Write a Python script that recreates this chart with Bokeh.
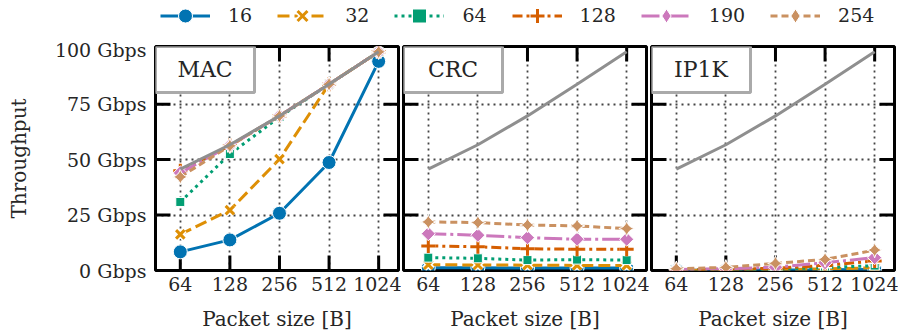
import numpy as np
from bokeh.plotting import figure
from bokeh.layouts import column, row
from bokeh.models import (Range1d, FixedTicker, PrintfTickFormatter, BoxAnnotation,
                          Label, Legend, LegendItem, ColumnDataSource, Grid)
from bokeh.embed import file_html
from bokeh.resources import INLINE

# ---------------- data ----------------
packet_sizes = [64, 128, 256, 512, 1024]
panel_names = ["MAC", "CRC", "IP1K"]
series_names = ["16", "32", "64", "128", "190", "254"]
y_ticks = [0, 25, 50, 75, 100]

line_rate = [45.7, 56.7, 69.7, 84.0, 98.6]

mac_16 = [8.4, 13.8, 25.8, 48.7, 94.3]
mac_32 = [16.3, 27.2, 50.2, 84.0, 98.6]
mac_64 = [30.9, 52.5, 69.2, 84.0, 98.6]
mac_128 = [45.0, 56.4, 69.7, 84.0, 98.6]
mac_190 = [44.0, 56.3, 69.7, 84.0, 98.6]
mac_254 = [42.2, 56.2, 69.7, 84.0, 98.6]

crc_16 = [1.2, 1.2, 1.1, 1.1, 1.1]
crc_32 = [2.6, 2.5, 2.4, 2.3, 2.3]
crc_64 = [5.8, 5.5, 4.7, 4.9, 4.7]
crc_128 = [11.1, 10.7, 9.8, 9.6, 9.6]
crc_190 = [16.6, 15.9, 14.8, 14.1, 14.1]
crc_254 = [21.9, 21.6, 20.5, 20.1, 18.9]

ip1k_16 = [0.1, 0.1, 0.2, 0.3, 0.5]
ip1k_32 = [0.1, 0.2, 0.4, 0.7, 1.2]
ip1k_64 = [0.2, 0.3, 0.6, 1.3, 2.2]
ip1k_128 = [0.3, 0.5, 1.0, 2.3, 4.3]
ip1k_190 = [0.4, 0.8, 1.5, 3.5, 5.8]
ip1k_254 = [0.8, 1.4, 3.2, 5.0, 9.2]

panel_data = [
    [mac_16, mac_32, mac_64, mac_128, mac_190, mac_254],
    [crc_16, crc_32, crc_64, crc_128, crc_190, crc_254],
    [ip1k_16, ip1k_32, ip1k_64, ip1k_128, ip1k_190, ip1k_254],
]

# ---------------- style ----------------
FONT = "DejaVu Serif"
TXT = "#262626"
colors = ["#0173B2", "#DE8F05", "#029E73", "#D55E00", "#CC78BC", "#CA9161"]
markers = ["circle", "x", "square", "cross", "square", "square_pin"]
legend_markers = ["circle", "x", "square", "cross", "diamond", "diamond"]
angles = [0, 0, 0, 0, np.pi / 4, np.pi / 4]
msizes = [14, 12, 9, 14, 10, 11]
dashes = ["solid", "12 5", "3 4", "10 4 3 4", "18 4 3 4", "7 4"]
line_markers = {"x", "cross"}
GRAY = "#8f8f8f"

XS, XE = 64 / 2 ** 0.5, 1024 * 2 ** 0.4
YS, YE = 0, 101
FW, FH = 243, 224
PPO = FW / np.log2(XE / XS)     # px per octave
PPU = FH / (YE - YS)            # px per unit


def add_series(p, k, xs, ys, marker=None):
    marker = marker or markers[k]
    src = ColumnDataSource(dict(x=xs, y=ys))
    rs = []
    rs.append(p.line("x", "y", source=src, line_color=colors[k], line_width=3,
                     line_dash=dashes[k]))
    if marker in line_markers:
        rs.append(p.scatter("x", "y", source=src, marker=marker, size=msizes[k],
                            line_color="white", line_width=6))
        rs.append(p.scatter("x", "y", source=src, marker=marker, size=msizes[k],
                            line_color=colors[k], line_width=3))
    else:
        rs.append(p.scatter("x", "y", source=src, marker=marker, size=msizes[k],
                            angle=angles[k], fill_color=colors[k], line_color="white",
                            line_width=1))
    return rs


def style_axis(a, label):
    a.axis_label = label
    a.axis_line_color = None
    a.major_tick_line_color = None
    a.minor_tick_line_color = None
    a.major_tick_in = 0
    a.major_tick_out = 0
    a.minor_tick_in = 0
    a.minor_tick_out = 0
    a.major_label_text_font = FONT
    a.major_label_text_font_size = "19px"
    a.major_label_text_color = TXT
    a.axis_label_text_font = FONT
    a.axis_label_text_font_size = "20px"
    a.axis_label_text_font_style = "normal"
    a.axis_label_text_color = TXT


def make_panel(i):
    left = 155 if i == 0 else 2
    right = 3 if i < 2 else 4
    p = figure(frame_width=FW, frame_height=FH, min_border_left=left,
               min_border_right=right, min_border_top=8, min_border_bottom=60,
               x_axis_type="log", x_range=Range1d(XS, XE), y_range=Range1d(YS, YE),
               y_axis_location="left" if i == 0 else None,
               toolbar_location=None, output_backend="svg")
    p.background_fill_color = "white"
    p.border_fill_color = "white"
    p.outline_line_color = "black"
    p.outline_line_width = 3
    p.grid.visible = False
    gx = Grid(dimension=0, ticker=FixedTicker(ticks=packet_sizes),
              grid_line_color="#444444", grid_line_width=1.8, grid_line_dash="2 4")
    gy = Grid(dimension=1, ticker=FixedTicker(ticks=y_ticks[1:-1]),
              grid_line_color="#444444", grid_line_width=1.8, grid_line_dash="2 4")
    p.add_layout(gx)
    p.add_layout(gy)

    ax = p.xaxis[0]
    ax.ticker = FixedTicker(ticks=packet_sizes)
    ax.formatter = PrintfTickFormatter(format="%d")
    style_axis(ax, "Packet size [B]")
    ax.major_label_standoff = 6
    ax.axis_label_standoff = 13
    if i == 0:
        ay = p.yaxis[0]
        ay.ticker = FixedTicker(ticks=y_ticks)
        ay.formatter = PrintfTickFormatter(format="%d Gbps")
        style_axis(ay, "Throughput")
        ay.major_label_standoff = 9
        ay.axis_label_standoff = 21

    # inward ticks on all four sides
    tl = 15
    ty = tl / PPU
    tx = 2 ** (tl / PPO)
    n = len(packet_sizes)
    inner_y = y_ticks[1:-1]
    m = len(inner_y)
    p.segment(x0=packet_sizes, y0=[YS] * n, x1=packet_sizes, y1=[YS + ty] * n,
              line_color="black", line_width=3)
    p.segment(x0=packet_sizes, y0=[YE] * n, x1=packet_sizes, y1=[YE - ty] * n,
              line_color="black", line_width=3)
    p.segment(x0=[XS] * m, y0=inner_y, x1=[XS * tx] * m, y1=inner_y,
              line_color="black", line_width=3)
    p.segment(x0=[XE] * m, y0=inner_y, x1=[XE / tx] * m, y1=inner_y,
              line_color="black", line_width=3)

    for k in range(len(series_names)):
        add_series(p, k, packet_sizes, panel_data[i][k])
    p.line(packet_sizes, line_rate, line_color=GRAY, line_width=3)

    # panel title box
    bw, bh = 99, 46
    p.add_layout(BoxAnnotation(left=XS, right=XS * 2 ** (bw / PPO), bottom=YE - bh / PPU,
                               top=YE, fill_color="white", fill_alpha=1,
                               line_color="#aaaaaa", line_width=3, line_alpha=1))
    p.add_layout(Label(x=XS * 2 ** (bw / 2 / PPO), y=YE - bh / 2 / PPU, text=panel_names[i],
                       text_align="center", text_baseline="middle", text_font=FONT,
                       text_font_size="22px", text_color=TXT))
    return p


panels = [make_panel(i) for i in range(3)]
total_w = (155 + FW + 3) + (2 + FW + 3) + (2 + FW + 4)

# legend strip (one hidden point per series, outside the strip's range)
LH = 38
lf = figure(width=total_w, height=LH, min_border=0, x_range=Range1d(0, 1),
            y_range=Range1d(0, 1), x_axis_location=None, y_axis_location=None,
            toolbar_location=None, output_backend="svg")
lf.outline_line_color = None
lf.grid.visible = False
items = []
for k, name in enumerate(series_names):
    rs = add_series(lf, k, [-10.0], [-10.0], marker=legend_markers[k])
    items.append(LegendItem(label=name, renderers=rs))
legend = Legend(items=items, location=(160, LH - 15 - 17.5), orientation="horizontal",
                glyph_width=50, glyph_height=35, label_height=20, label_standoff=18,
                spacing=25, padding=0, margin=0, border_line_color=None,
                background_fill_alpha=0, label_text_font=FONT,
                label_text_font_size="19px", label_text_color=TXT)
lf.add_layout(legend)

layout = column(lf, row(*panels))
open("out.html", "w").write(file_html(layout, INLINE))
